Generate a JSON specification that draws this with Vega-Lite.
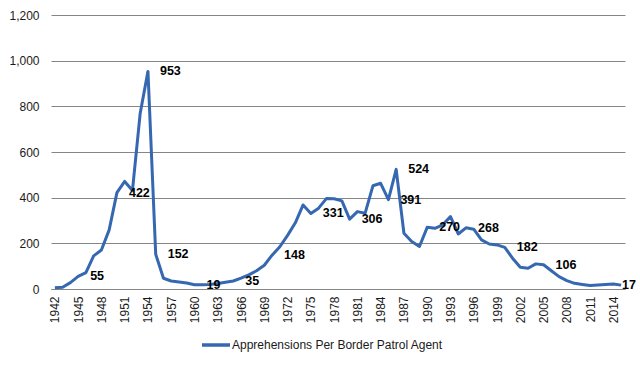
{
  "$schema": "https://vega.github.io/schema/vega-lite/v6.json",
  "autosize": {"type": "none"},
  "padding": {"left": 51, "top": 15, "right": 15, "bottom": 77},
  "width": 574,
  "height": 274,
  "background": "white",
  "config": {
    "view": {"stroke": null},
    "font": "Liberation Sans",
    "axis": {"labelFont": "Liberation Sans", "labelFontSize": 12, "labelColor": "#1a1a1a"}
  },
  "data": {
    "values": [
      {"year": 1942, "value": 5}, {"year": 1943, "value": 8}, {"year": 1944, "value": 28},
      {"year": 1945, "value": 55}, {"year": 1946, "value": 72}, {"year": 1947, "value": 145},
      {"year": 1948, "value": 171}, {"year": 1949, "value": 259}, {"year": 1950, "value": 422},
      {"year": 1951, "value": 471}, {"year": 1952, "value": 431}, {"year": 1953, "value": 770},
      {"year": 1954, "value": 953}, {"year": 1955, "value": 152}, {"year": 1956, "value": 47},
      {"year": 1957, "value": 35}, {"year": 1958, "value": 31}, {"year": 1959, "value": 26},
      {"year": 1960, "value": 19}, {"year": 1961, "value": 19}, {"year": 1962, "value": 20},
      {"year": 1963, "value": 24}, {"year": 1964, "value": 30}, {"year": 1965, "value": 35},
      {"year": 1966, "value": 48}, {"year": 1967, "value": 62}, {"year": 1968, "value": 80},
      {"year": 1969, "value": 104}, {"year": 1970, "value": 148}, {"year": 1971, "value": 185},
      {"year": 1972, "value": 235}, {"year": 1973, "value": 290}, {"year": 1974, "value": 368},
      {"year": 1975, "value": 331}, {"year": 1976, "value": 354}, {"year": 1977, "value": 396},
      {"year": 1978, "value": 395}, {"year": 1979, "value": 386}, {"year": 1980, "value": 306},
      {"year": 1981, "value": 339}, {"year": 1982, "value": 332}, {"year": 1983, "value": 452},
      {"year": 1984, "value": 463}, {"year": 1985, "value": 391}, {"year": 1986, "value": 524},
      {"year": 1987, "value": 244}, {"year": 1988, "value": 208}, {"year": 1989, "value": 186},
      {"year": 1990, "value": 270}, {"year": 1991, "value": 266}, {"year": 1992, "value": 281},
      {"year": 1993, "value": 317}, {"year": 1994, "value": 241}, {"year": 1995, "value": 268},
      {"year": 1996, "value": 262}, {"year": 1997, "value": 215}, {"year": 1998, "value": 197},
      {"year": 1999, "value": 193}, {"year": 2000, "value": 182}, {"year": 2001, "value": 135},
      {"year": 2002, "value": 95}, {"year": 2003, "value": 91}, {"year": 2004, "value": 110},
      {"year": 2005, "value": 106}, {"year": 2006, "value": 80}, {"year": 2007, "value": 54},
      {"year": 2008, "value": 37}, {"year": 2009, "value": 25}, {"year": 2010, "value": 20},
      {"year": 2011, "value": 15}, {"year": 2012, "value": 18}, {"year": 2013, "value": 20},
      {"year": 2014, "value": 22}, {"year": 2015, "value": 17}
    ]
  },
  "encoding": {
    "x": {
      "field": "year", "type": "quantitative",
      "scale": {"domain": [1941.5, 2015.5], "nice": false, "zero": false},
      "axis": {
        "title": null, "grid": false, "ticks": false, "domain": true, "domainColor": "#868686", "domainWidth": 1,
        "values": [1942,1945,1948,1951,1954,1957,1960,1963,1966,1969,1972,1975,1978,1981,1984,1987,1990,1993,1996,1999,2002,2005,2008,2011,2014],
        "format": "d", "labelAngle": -90, "labelPadding": 7, "labelFlush": false, "labelOverlap": false
      }
    },
    "y": {
      "field": "value", "type": "quantitative",
      "scale": {"domain": [0, 1200], "nice": false},
      "axis": {
        "title": null, "values": [0,200,400,600,800,1000,1200], "format": ",d",
        "domain": false, "ticks": false, "labelPadding": 12,
        "grid": true, "gridColor": "#868686", "gridWidth": 1
      }
    }
  },
  "layer": [
    {
      "mark": {"type": "line", "strokeWidth": 3, "strokeJoin": "round"},
      "encoding": {
        "color": {
          "datum": "Apprehensions Per Border Patrol Agent",
          "scale": {"range": ["#3568B0"]},
          "legend": {
            "title": null, "orient": "none", "legendX": 149, "legendY": 314,
            "symbolType": "stroke", "symbolSize": 784, "symbolStrokeWidth": 3.5,
            "labelFont": "Liberation Sans", "labelFontSize": 12, "labelColor": "#1a1a1a", "labelOffset": 0,
            "labelLimit": 400
          }
        }
      }
    },
    {
      "transform": [{"filter": {"field": "year", "oneOf": [1945,1950,1954,1955,1960,1965,1970,1975,1980,1985,1986,1990,1995,2000,2005]}}],
      "mark": {"type": "text", "align": "left", "baseline": "middle", "dx": 12, "fontSize": 12.5, "fontWeight": "bold", "color": "black"},
      "encoding": {"text": {"field": "value", "type": "quantitative"}}
    },
    {
      "transform": [{"filter": {"field": "year", "equal": 2015}}],
      "mark": {"type": "text", "align": "left", "baseline": "middle", "dx": 1, "fontSize": 12.5, "fontWeight": "bold", "color": "black"},
      "encoding": {"text": {"field": "value", "type": "quantitative"}}
    }
  ]
}
